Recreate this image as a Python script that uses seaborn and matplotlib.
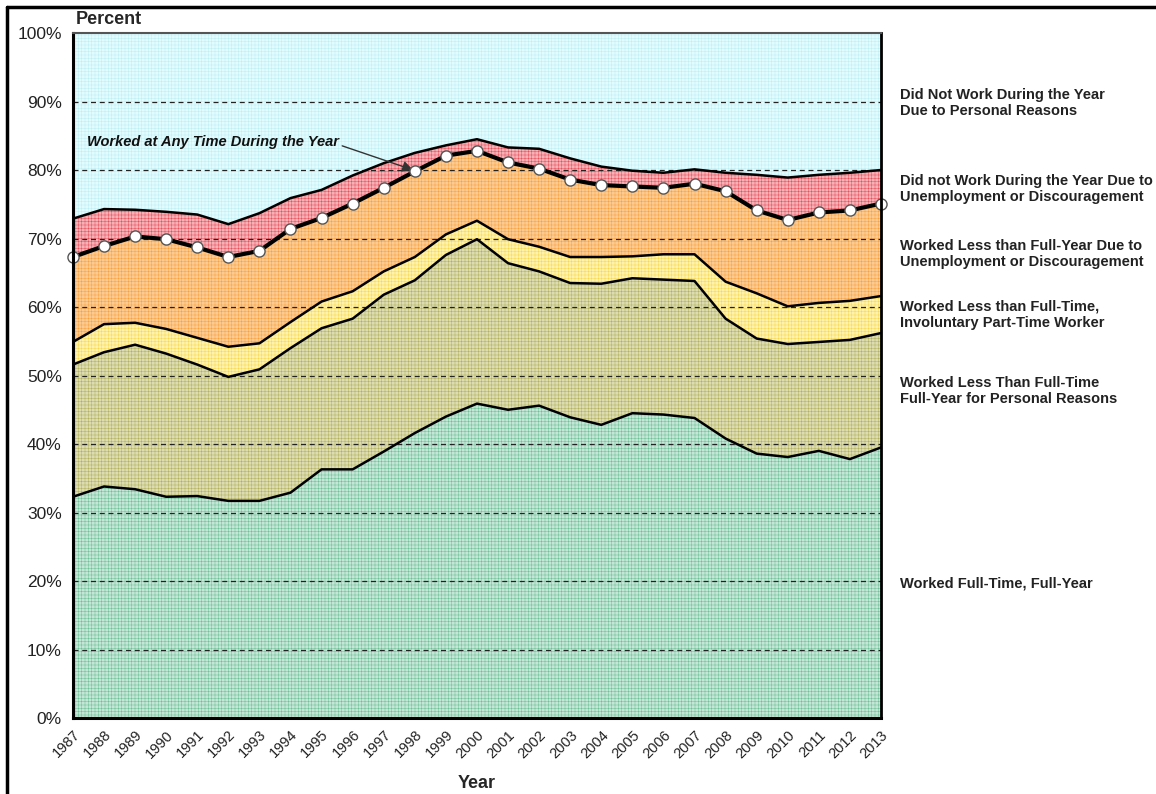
import numpy as np
import pandas as pd
import matplotlib.pyplot as plt
import seaborn as sns
from matplotlib.lines import Line2D

sns.set_style("white")
plt.rcParams["font.family"] = ["Liberation Sans", "DejaVu Sans"]
plt.rcParams["hatch.linewidth"] = 0.35

# anos
years = list(range(1987, 2014))

# participacao de cada grupo (%), de baixo para cima
full_time_full_year = [32.3, 33.8, 33.4, 32.3, 32.4, 31.7, 31.7, 32.9, 36.3, 36.3, 38.9, 41.6, 44.0, 45.9,
                       45.0, 45.6, 43.9, 42.8, 44.5, 44.3, 43.8, 40.8, 38.6, 38.1, 39.0, 37.8, 39.5]
less_personal = [19.3, 19.6, 21.1, 20.9, 19.2, 18.1, 19.2, 21.1, 20.6, 22.0, 22.9, 22.3, 23.6, 24.0,
                 21.4, 19.6, 19.6, 20.6, 19.7, 19.7, 20.0, 17.5, 16.8, 16.5, 15.9, 17.4, 16.7]
involuntary_pt = [3.3, 4.1, 3.2, 3.6, 3.9, 4.4, 3.8, 3.8, 3.9, 4.0, 3.4, 3.4, 3.0, 2.7,
                  3.5, 3.6, 3.8, 3.9, 3.2, 3.7, 3.9, 5.4, 6.6, 5.5, 5.7, 5.7, 5.4]
less_full_year_unemp = [12.4, 11.4, 12.6, 13.1, 13.2, 13.1, 13.5, 13.6, 12.2, 12.8, 12.2, 12.5, 11.5, 10.2,
                        11.2, 11.4, 11.3, 10.5, 10.2, 9.7, 10.3, 13.2, 12.1, 12.6, 13.2, 13.2, 13.5]
no_work_unemp = [5.6, 5.4, 3.9, 4.0, 4.8, 4.8, 5.5, 4.5, 4.1, 4.1, 3.6, 2.7, 1.5, 1.7,
                 2.2, 2.9, 3.1, 2.7, 2.3, 2.2, 2.1, 2.7, 5.2, 6.2, 5.5, 5.5, 4.9]
no_work_personal = [27.1, 25.7, 25.8, 26.1, 26.5, 27.9, 26.3, 24.1, 22.9, 20.8, 19.0, 17.5, 16.4, 15.5,
                    16.7, 16.9, 18.3, 19.5, 20.1, 20.4, 19.9, 20.4, 20.7, 21.1, 20.7, 20.4, 20.0]

labels = [
    "Worked Full-Time, Full-Year",
    "Worked Less Than Full-Time\nFull-Year for Personal Reasons",
    "Worked Less than Full-Time,\nInvoluntary Part-Time Worker",
    "Worked Less than Full-Year Due to\nUnemployment or Discouragement",
    "Did not Work During the Year Due to\nUnemployment or Discouragement",
    "Did Not Work During the Year\nDue to Personal Reasons",
]
label_pos = [19.7, 47.7, 58.9, 67.7, 77.2, 89.8]

fills = ["#c4e6d6", "#dcdbb2", "#fff2ad", "#fdcb92", "#f7b0b6", "#e2fbfd"]
dots = ["#6cc096", "#b2b25a", "#f7d84e", "#f7a240", "#e6505a", "#bdf0f5"]

layers = [full_time_full_year, less_personal, involuntary_pt,
          less_full_year_unemp, no_work_unemp, no_work_personal]
tops = np.cumsum(np.array(layers), axis=0)
bottoms = np.vstack([np.zeros(len(years)), tops[:-1]])

df = pd.DataFrame({"Year": years})
for i, t in enumerate(tops[:5]):
    df[f"b{i}"] = t

fig = plt.figure(figsize=(11.56, 7.94), dpi=100)
ax = fig.add_axes([0.0631, 0.0957, 0.699, 0.8627])

for i in range(6):
    ax.fill_between(years, bottoms[i], tops[i], facecolor=fills[i], edgecolor=dots[i],
                    hatch="+++++", linewidth=0, zorder=1)

# grade tracejada
for v in range(10, 100, 10):
    ax.axhline(v, color="#222222", lw=0.9, ls=(0, (4, 3)), zorder=2)

# linhas de fronteira
for i in range(5):
    lw = 3.0 if i == 3 else 1.8
    sns.lineplot(data=df, x="Year", y=f"b{i}", color="black", lw=lw, ax=ax, zorder=3)

# trabalhou em algum momento do ano
sns.lineplot(data=df, x="Year", y="b3", color="black", lw=0, marker="o", markersize=8,
             markerfacecolor="white", markeredgecolor="#555555", markeredgewidth=1.0,
             ax=ax, zorder=4, clip_on=False)

ax.annotate("Worked at Any Time During the Year", xy=(1997.95, 80.0), xytext=(1987.45, 84.1),
            fontsize=10.5, fontweight="bold", fontstyle="italic", color="#111111",
            va="center", ha="left",
            arrowprops=dict(arrowstyle="-|>", color="#333333", lw=1.0, mutation_scale=16,
                            shrinkA=0, shrinkB=0, relpos=(1.0, 0.3)))

ax.set_xlim(1987, 2013)
ax.set_ylim(0, 100)
ax.set_xticks(years)
ax.set_xticklabels([str(y) for y in years], rotation=45, ha="right", rotation_mode="anchor",
                   fontsize=10.5, color="#222222")
ax.set_yticks(range(0, 101, 10))
ax.set_yticklabels([f"{v}%" for v in range(0, 101, 10)], fontsize=12.5, color="#222222")
ax.tick_params(axis="both", direction="out", length=5, width=1.5, color="black", pad=3)
ax.tick_params(axis="x", pad=2)
ax.set_xlabel("Year", fontsize=13, fontweight="bold", labelpad=10)
ax.set_ylabel("")
ax.text(0.003, 1.007, "Percent", transform=ax.transAxes, fontsize=13, fontweight="bold",
        ha="left", va="bottom")

for side in ["left", "bottom"]:
    ax.spines[side].set_color("black")
    ax.spines[side].set_linewidth(2.2)
ax.spines["right"].set_color("black")
ax.spines["right"].set_linewidth(2.0)
ax.spines["top"].set_color("#555555")
ax.spines["top"].set_linewidth(1.5)
for s in ax.spines.values():
    s.set_zorder(5)

for lab, y in zip(labels, label_pos):
    ax.text(1.023, y, lab, transform=ax.get_yaxis_transform(), fontsize=10.5,
            fontweight="bold", color="#222222", va="center", ha="left", linespacing=1.2)

# moldura
fig.add_artist(Line2D([0.006, 1.0], [0.991, 0.991], color="black", lw=2.5))
fig.add_artist(Line2D([0.006, 0.006], [0.0, 0.991], color="black", lw=2.5))

plt.savefig("out.png", dpi=100)
